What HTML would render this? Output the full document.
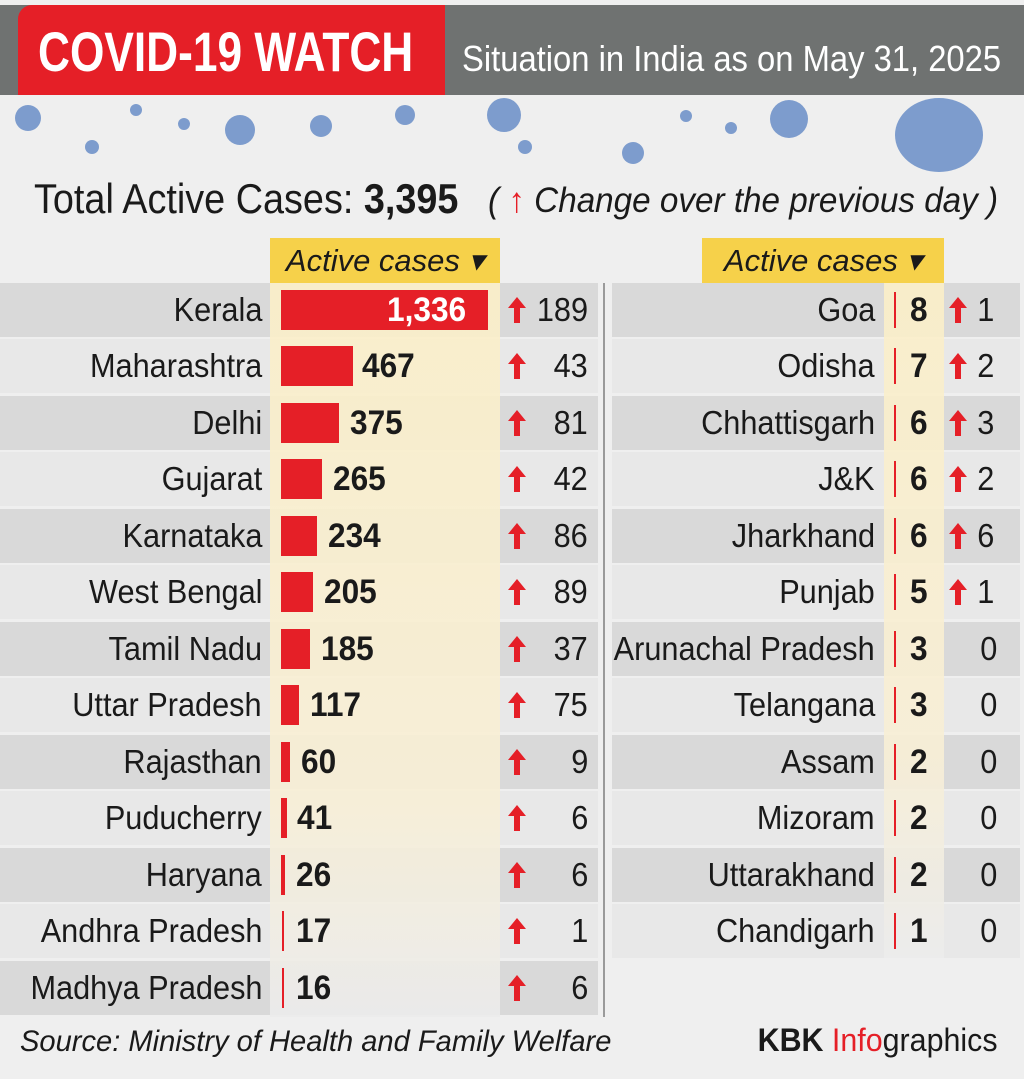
<!DOCTYPE html>
<html><head><meta charset="utf-8"><style>
*{margin:0;padding:0;box-sizing:border-box}
body{width:1024px;height:1079px;background:#efefef;position:relative;overflow:hidden;font-family:"Liberation Sans",sans-serif;color:#1a1a1a}
.a{position:absolute}
.row{position:absolute;height:54px}
.nm{position:absolute;font-size:33px;line-height:54px;text-align:right;white-space:nowrap;transform:scaleX(0.93);transform-origin:right center}
.v{position:absolute;font-size:34px;font-weight:bold;line-height:54px;white-space:nowrap;transform:scaleX(0.93);transform-origin:left center}
.c{position:absolute;font-size:33px;line-height:54px;text-align:right;transform:scaleX(0.93);transform-origin:right center}
.bar{position:absolute;background:#e51f27;height:40px}
.ar{position:absolute;width:18px;height:26px}
.vir{position:absolute;border-radius:50%;background:#7d9ccd}
</style></head><body>
<div class="a" style="left:0;top:5px;width:1024px;height:90px;background:#6f7271"></div>
<div class="a" style="left:18px;top:5px;width:427px;height:90px;background:#e51f27;border-radius:14px 0 0 0"></div>
<div class="a" style="left:38px;top:20px;font-size:56px;font-weight:bold;color:#fff;line-height:64px;white-space:nowrap;transform:scaleX(0.79);transform-origin:left center">COVID-19 WATCH</div>
<div class="a" style="left:462px;top:36px;font-size:36px;color:#fff;line-height:46px;white-space:nowrap;transform:scaleX(0.91);transform-origin:left center">Situation in India as on May 31, 2025</div>
<div class="vir" style="left:15px;top:105px;width:26px;height:26px"></div>
<div class="vir" style="left:130px;top:104px;width:12px;height:12px"></div>
<div class="vir" style="left:225px;top:115px;width:30px;height:30px"></div>
<div class="vir" style="left:310px;top:115px;width:22px;height:22px"></div>
<div class="vir" style="left:395px;top:105px;width:20px;height:20px"></div>
<div class="vir" style="left:487px;top:98px;width:34px;height:34px"></div>
<div class="vir" style="left:518px;top:140px;width:14px;height:14px"></div>
<div class="vir" style="left:622px;top:142px;width:22px;height:22px"></div>
<div class="vir" style="left:680px;top:110px;width:12px;height:12px"></div>
<div class="vir" style="left:770px;top:100px;width:38px;height:38px"></div>
<div class="vir" style="left:895px;top:98px;width:88px;height:74px"></div>
<div class="vir" style="left:85px;top:140px;width:14px;height:14px"></div>
<div class="vir" style="left:178px;top:118px;width:12px;height:12px"></div>
<div class="vir" style="left:725px;top:122px;width:12px;height:12px"></div>
<div class="a" style="left:34px;top:174px;font-size:42px;line-height:50px;white-space:nowrap;transform:scaleX(0.9);transform-origin:left center">Total Active Cases: <b>3,395</b></div>
<div class="a" style="left:488px;top:178px;font-size:35px;font-style:italic;line-height:46px;white-space:nowrap;transform:scaleX(0.95);transform-origin:left center">( <span style="color:#e51f27;font-style:normal;font-weight:bold">↑</span> Change over the previous day )</div>
<div class="a" style="left:270px;top:238px;width:230px;height:45px;background:#f6d14a;font-size:31px;font-style:italic;line-height:45px;text-align:center">Active cases ▾</div>
<div class="a" style="left:702px;top:238px;width:242px;height:45px;background:#f6d14a;font-size:31px;font-style:italic;line-height:45px;text-align:center">Active cases ▾</div>
<div class="a" style="left:603px;top:283px;width:2px;height:734px;background:#9a9a9a"></div>

<svg width="0" height="0" style="position:absolute"><defs><symbol id="up" viewBox="0 0 18 26"><path d="M9 0 L18 11 L12 11 L12 26 L6 26 L6 11 L0 11Z" fill="#e51f27"/></symbol></defs></svg>

<div class="row" style="left:0;top:283px;width:598px;background:#d9d9d9"></div>
<div class="row" style="left:0;top:339px;width:598px;background:#e8e8e8"></div>
<div class="row" style="left:0;top:396px;width:598px;background:#d9d9d9"></div>
<div class="row" style="left:0;top:452px;width:598px;background:#e8e8e8"></div>
<div class="row" style="left:0;top:509px;width:598px;background:#d9d9d9"></div>
<div class="row" style="left:0;top:565px;width:598px;background:#e8e8e8"></div>
<div class="row" style="left:0;top:622px;width:598px;background:#d9d9d9"></div>
<div class="row" style="left:0;top:678px;width:598px;background:#e8e8e8"></div>
<div class="row" style="left:0;top:735px;width:598px;background:#d9d9d9"></div>
<div class="row" style="left:0;top:791px;width:598px;background:#e8e8e8"></div>
<div class="row" style="left:0;top:848px;width:598px;background:#d9d9d9"></div>
<div class="row" style="left:0;top:904px;width:598px;background:#e8e8e8"></div>
<div class="row" style="left:0;top:961px;width:598px;background:#d9d9d9"></div>
<div class="a" style="left:270px;top:283px;width:230px;height:734px;background:linear-gradient(#fbefc8,#f8efd6 70%,#ececec);opacity:.9"></div>
<div class="row" style="left:612px;top:283px;width:408px;background:#d9d9d9"></div>
<div class="row" style="left:612px;top:339px;width:408px;background:#e8e8e8"></div>
<div class="row" style="left:612px;top:396px;width:408px;background:#d9d9d9"></div>
<div class="row" style="left:612px;top:452px;width:408px;background:#e8e8e8"></div>
<div class="row" style="left:612px;top:509px;width:408px;background:#d9d9d9"></div>
<div class="row" style="left:612px;top:565px;width:408px;background:#e8e8e8"></div>
<div class="row" style="left:612px;top:622px;width:408px;background:#d9d9d9"></div>
<div class="row" style="left:612px;top:678px;width:408px;background:#e8e8e8"></div>
<div class="row" style="left:612px;top:735px;width:408px;background:#d9d9d9"></div>
<div class="row" style="left:612px;top:791px;width:408px;background:#e8e8e8"></div>
<div class="row" style="left:612px;top:848px;width:408px;background:#d9d9d9"></div>
<div class="row" style="left:612px;top:904px;width:408px;background:#e8e8e8"></div>
<div class="a" style="left:884px;top:283px;width:60px;height:675px;background:linear-gradient(#fbefc8,#f8efd6 70%,#ececec);opacity:.9"></div>

<div class="nm" style="right:762px;top:283px">Kerala</div><div class="bar" style="left:281px;top:290px;width:207px"></div><div class="v" style="left:387px;top:283px;color:#fff">1,336</div><svg class="ar" style="left:508px;top:297px"><use href="#up"/></svg><div class="c" style="right:436px;top:283px">189</div>
<div class="nm" style="right:762px;top:339px">Maharashtra</div><div class="bar" style="left:281px;top:346px;width:72px"></div><div class="v" style="left:362px;top:339px">467</div><svg class="ar" style="left:508px;top:353px"><use href="#up"/></svg><div class="c" style="right:436px;top:339px">43</div>
<div class="nm" style="right:762px;top:396px">Delhi</div><div class="bar" style="left:281px;top:403px;width:58px"></div><div class="v" style="left:350px;top:396px">375</div><svg class="ar" style="left:508px;top:410px"><use href="#up"/></svg><div class="c" style="right:436px;top:396px">81</div>
<div class="nm" style="right:762px;top:452px">Gujarat</div><div class="bar" style="left:281px;top:459px;width:41px"></div><div class="v" style="left:333px;top:452px">265</div><svg class="ar" style="left:508px;top:466px"><use href="#up"/></svg><div class="c" style="right:436px;top:452px">42</div>
<div class="nm" style="right:762px;top:509px">Karnataka</div><div class="bar" style="left:281px;top:516px;width:36px"></div><div class="v" style="left:328px;top:509px">234</div><svg class="ar" style="left:508px;top:523px"><use href="#up"/></svg><div class="c" style="right:436px;top:509px">86</div>
<div class="nm" style="right:762px;top:565px">West Bengal</div><div class="bar" style="left:281px;top:572px;width:32px"></div><div class="v" style="left:324px;top:565px">205</div><svg class="ar" style="left:508px;top:579px"><use href="#up"/></svg><div class="c" style="right:436px;top:565px">89</div>
<div class="nm" style="right:762px;top:622px">Tamil Nadu</div><div class="bar" style="left:281px;top:629px;width:29px"></div><div class="v" style="left:321px;top:622px">185</div><svg class="ar" style="left:508px;top:636px"><use href="#up"/></svg><div class="c" style="right:436px;top:622px">37</div>
<div class="nm" style="right:762px;top:678px">Uttar Pradesh</div><div class="bar" style="left:281px;top:685px;width:18px"></div><div class="v" style="left:310px;top:678px">117</div><svg class="ar" style="left:508px;top:692px"><use href="#up"/></svg><div class="c" style="right:436px;top:678px">75</div>
<div class="nm" style="right:762px;top:735px">Rajasthan</div><div class="bar" style="left:281px;top:742px;width:9px"></div><div class="v" style="left:301px;top:735px">60</div><svg class="ar" style="left:508px;top:749px"><use href="#up"/></svg><div class="c" style="right:436px;top:735px">9</div>
<div class="nm" style="right:762px;top:791px">Puducherry</div><div class="bar" style="left:281px;top:798px;width:6px"></div><div class="v" style="left:297px;top:791px">41</div><svg class="ar" style="left:508px;top:805px"><use href="#up"/></svg><div class="c" style="right:436px;top:791px">6</div>
<div class="nm" style="right:762px;top:848px">Haryana</div><div class="bar" style="left:281px;top:855px;width:4px"></div><div class="v" style="left:296px;top:848px">26</div><svg class="ar" style="left:508px;top:862px"><use href="#up"/></svg><div class="c" style="right:436px;top:848px">6</div>
<div class="nm" style="right:762px;top:904px">Andhra Pradesh</div><div class="bar" style="left:282px;top:911px;width:2px"></div><div class="v" style="left:296px;top:904px">17</div><svg class="ar" style="left:508px;top:918px"><use href="#up"/></svg><div class="c" style="right:436px;top:904px">1</div>
<div class="nm" style="right:762px;top:961px">Madhya Pradesh</div><div class="bar" style="left:282px;top:968px;width:2px"></div><div class="v" style="left:296px;top:961px">16</div><svg class="ar" style="left:508px;top:975px"><use href="#up"/></svg><div class="c" style="right:436px;top:961px">6</div>

<div class="nm" style="right:149px;top:283px">Goa</div><div class="bar" style="left:894px;top:292px;width:2px;height:36px"></div><div class="v" style="left:910px;top:283px">8</div><svg class="ar" style="left:949px;top:297px"><use href="#up"/></svg><div class="c" style="right:30px;top:283px">1</div>
<div class="nm" style="right:149px;top:339px">Odisha</div><div class="bar" style="left:894px;top:348px;width:2px;height:36px"></div><div class="v" style="left:910px;top:339px">7</div><svg class="ar" style="left:949px;top:353px"><use href="#up"/></svg><div class="c" style="right:30px;top:339px">2</div>
<div class="nm" style="right:149px;top:396px">Chhattisgarh</div><div class="bar" style="left:894px;top:405px;width:2px;height:36px"></div><div class="v" style="left:910px;top:396px">6</div><svg class="ar" style="left:949px;top:410px"><use href="#up"/></svg><div class="c" style="right:30px;top:396px">3</div>
<div class="nm" style="right:149px;top:452px">J&amp;K</div><div class="bar" style="left:894px;top:461px;width:2px;height:36px"></div><div class="v" style="left:910px;top:452px">6</div><svg class="ar" style="left:949px;top:466px"><use href="#up"/></svg><div class="c" style="right:30px;top:452px">2</div>
<div class="nm" style="right:149px;top:509px">Jharkhand</div><div class="bar" style="left:894px;top:518px;width:2px;height:36px"></div><div class="v" style="left:910px;top:509px">6</div><svg class="ar" style="left:949px;top:523px"><use href="#up"/></svg><div class="c" style="right:30px;top:509px">6</div>
<div class="nm" style="right:149px;top:565px">Punjab</div><div class="bar" style="left:894px;top:574px;width:2px;height:36px"></div><div class="v" style="left:910px;top:565px">5</div><svg class="ar" style="left:949px;top:579px"><use href="#up"/></svg><div class="c" style="right:30px;top:565px">1</div>
<div class="nm" style="right:149px;top:622px">Arunachal Pradesh</div><div class="bar" style="left:894px;top:631px;width:2px;height:36px"></div><div class="v" style="left:910px;top:622px">3</div><div class="c" style="right:27px;top:622px">0</div>
<div class="nm" style="right:149px;top:678px">Telangana</div><div class="bar" style="left:894px;top:687px;width:2px;height:36px"></div><div class="v" style="left:910px;top:678px">3</div><div class="c" style="right:27px;top:678px">0</div>
<div class="nm" style="right:149px;top:735px">Assam</div><div class="bar" style="left:894px;top:744px;width:2px;height:36px"></div><div class="v" style="left:910px;top:735px">2</div><div class="c" style="right:27px;top:735px">0</div>
<div class="nm" style="right:149px;top:791px">Mizoram</div><div class="bar" style="left:894px;top:800px;width:2px;height:36px"></div><div class="v" style="left:910px;top:791px">2</div><div class="c" style="right:27px;top:791px">0</div>
<div class="nm" style="right:149px;top:848px">Uttarakhand</div><div class="bar" style="left:894px;top:857px;width:2px;height:36px"></div><div class="v" style="left:910px;top:848px">2</div><div class="c" style="right:27px;top:848px">0</div>
<div class="nm" style="right:149px;top:904px">Chandigarh</div><div class="bar" style="left:894px;top:913px;width:2px;height:36px"></div><div class="v" style="left:910px;top:904px">1</div><div class="c" style="right:27px;top:904px">0</div>

<div class="a" style="left:20px;top:1022px;font-size:30px;font-style:italic;line-height:40px;white-space:nowrap;transform:scaleX(0.97);transform-origin:left center">Source: Ministry of Health and Family Welfare</div>
<div class="a" style="right:26px;top:1020px;font-size:32px;line-height:40px;white-space:nowrap;transform:scaleX(0.95);transform-origin:right center"><b>KBK</b> <span style="color:#e51f27">Info</span>graphics</div>
</body></html>
